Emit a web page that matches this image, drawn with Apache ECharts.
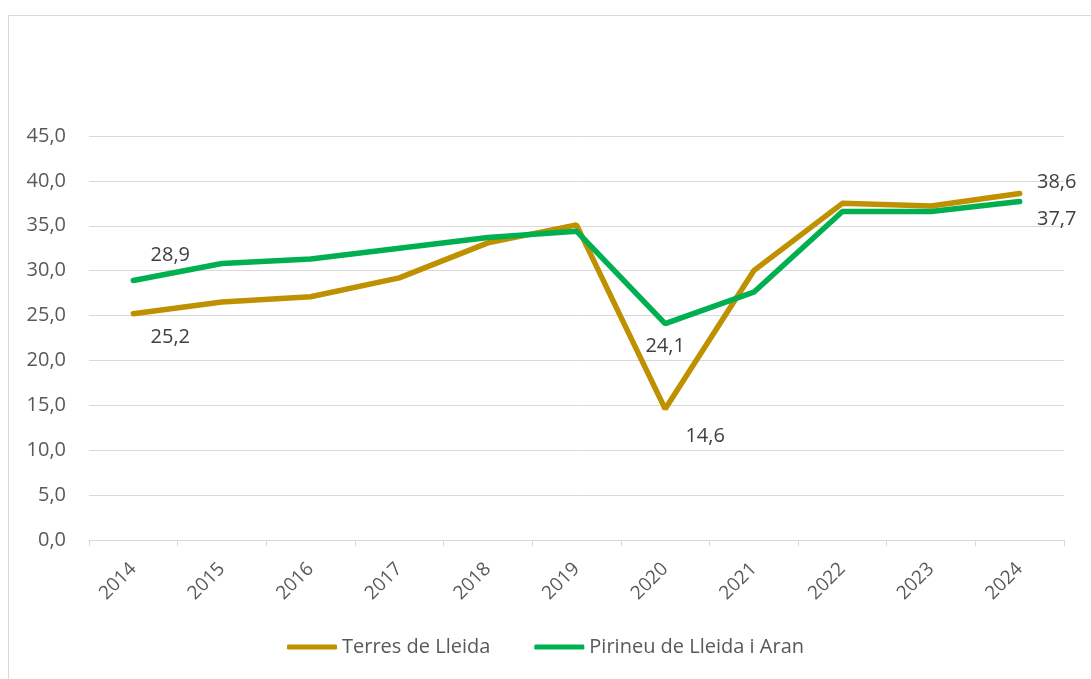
<!DOCTYPE html>
<html>
<head>
<meta charset="utf-8">
<script src="https://cdn.jsdelivr.net/npm/echarts@6/dist/echarts.min.js"></script>
<style>
  html, body { margin: 0; padding: 0; background: #fff; overflow: hidden; }
  .frame {
    position: absolute; left: 8px; top: 15px;
    width: 1200px; height: 800px;
    border: 1px solid #d9d9d9;
  }
  #chart { position: absolute; left: 0; top: 0; width: 1091px; height: 679px; }
</style>
</head>
<body>
<div class="frame"></div>
<div id="chart"></div>
<script>
const years = ["2014", "2015", "2016", "2017", "2018", "2019", "2020", "2021", "2022", "2023", "2024"];
const terres = [25.2, 26.5, 27.1, 29.2, 33.1, 35.1, 14.6, 30.0, 37.5, 37.2, 38.6];
const pirineu = [28.9, 30.8, 31.3, 32.5, 33.7, 34.4, 24.1, 27.6, 36.6, 36.6, 37.7];

// label offsets (only a few points are labelled)
const terresLabels = { 0: [37, 24], 6: [40, 27], 10: [37, -11] };
const pirineuLabels = { 0: [37, -25], 6: [0, 23], 10: [37, 18] };

const fmt = (v) => v.toFixed(1).replace(".", ",");

function buildData(values, labels) {
  return values.map((v, i) => {
    const off = labels[i];
    if (!off) return v;
    return {
      value: v,
      label: {
        show: true,
        position: "inside",
        offset: off,
        formatter: (p) => fmt(p.value),
        color: "#404040",
        fontSize: 20,
        fontFamily: "Open Sans"
      }
    };
  });
}

const chart = echarts.init(document.getElementById("chart"));
chart.setOption({
  animation: false,
  textStyle: { fontFamily: "Open Sans", color: "#595959" },
  grid: { left: 89, right: 27, top: 136, bottom: 139 },
  xAxis: {
    type: "category",
    data: years,
    boundaryGap: true,
    axisLine: { lineStyle: { color: "#d9d9d9", width: 1 } },
    axisTick: { show: true, length: 6, lineStyle: { color: "#d9d9d9" } },
    axisLabel: { rotate: 45, margin: 26, color: "#595959", fontSize: 19, fontFamily: "Open Sans" }
  },
  yAxis: {
    type: "value",
    min: 0,
    max: 45,
    interval: 5,
    axisLine: { show: false },
    axisTick: { show: false },
    splitLine: { lineStyle: { color: "#d9d9d9", width: 1 } },
    axisLabel: { formatter: fmt, color: "#595959", fontSize: 20, margin: 23, fontFamily: "Open Sans" }
  },
  legend: {
    bottom: 17,
    left: "center",
    itemWidth: 50,
    itemHeight: 5,
    itemGap: 44,
    icon: "roundRect",
    textStyle: { color: "#595959", fontSize: 20, fontFamily: "Open Sans" },
    data: ["Terres de Lleida", "Pirineu de Lleida i Aran"]
  },
  series: [
    {
      name: "Terres de Lleida",
      type: "line",
      data: buildData(terres, terresLabels),
      symbol: "circle",
      symbolSize: 1,
      showSymbol: true,
      color: "#BF9000",
      lineStyle: { width: 5.5, color: "#BF9000", cap: "round" },
      emphasis: { disabled: true }
    },
    {
      name: "Pirineu de Lleida i Aran",
      type: "line",
      data: buildData(pirineu, pirineuLabels),
      symbol: "circle",
      symbolSize: 1,
      showSymbol: true,
      color: "#00B050",
      lineStyle: { width: 5.5, color: "#00B050", cap: "round" },
      emphasis: { disabled: true }
    }
  ]
});
</script>
</body>
</html>
